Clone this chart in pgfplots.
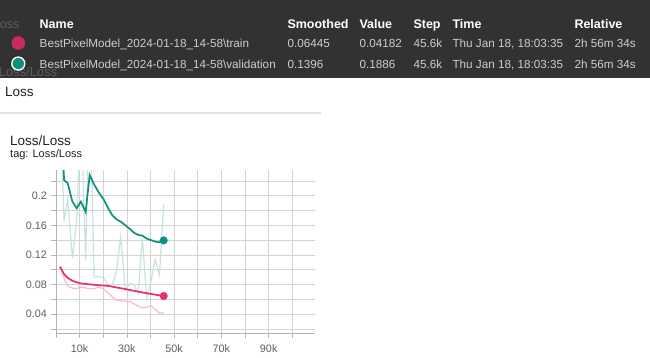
\documentclass[border=0pt]{standalone}
\usepackage{pgfplots}
\pgfplotsset{compat=1.18}
\usepackage{fontspec}
\setmainfont{Liberation Sans}
\definecolor{band}{HTML}{323232}
\definecolor{ghost}{HTML}{5E5E5E}
\definecolor{rowtxt}{HTML}{CDCDCD}
\definecolor{trainc}{HTML}{E6306F}
\definecolor{valc}{HTML}{0F8F7E}
\definecolor{gridc}{HTML}{D4D4D4}
\definecolor{tickc}{HTML}{5F5F5F}
\definecolor{dark}{HTML}{212121}
\newcommand{\fs}[1]{\fontsize{#1}{#1}\selectfont}

\pgfplotstableread{
x y
1.75 0.104
3.5 0.094
5.0 0.089
7.0 0.085
8.8 0.083
10.6 0.0815
12.6 0.0808
14.3 0.0802
16.2 0.0796
18.2 0.0790
20.2 0.0786
22.3 0.0780
24.0 0.0770
25.7 0.0760
27.4 0.0750
29.4 0.0738
31.3 0.0726
33.0 0.0715
34.8 0.0704
36.6 0.0693
38.4 0.0683
40.2 0.0673
42.0 0.0663
43.8 0.0654
45.6 0.06445
}\trainsmooth

\pgfplotstableread{
x y
1.75 0.104
3.5 0.088
5.0 0.078
7.0 0.075
8.8 0.0745
10.6 0.0765
12.6 0.0755
14.3 0.074
16.2 0.0745
18.2 0.0765
20.2 0.074
22.3 0.068
24.0 0.063
25.7 0.059
27.4 0.058
29.4 0.0575
31.3 0.057
33.0 0.054
34.8 0.051
36.6 0.0485
38.4 0.049
40.2 0.0515
42.0 0.0465
43.8 0.041
45.6 0.04182
}\trainraw

\pgfplotstableread{
x y
1.75 0.33
3.5 0.221
5.0 0.217
7.0 0.192
8.8 0.183
10.6 0.192
12.6 0.178
14.3 0.228
16.2 0.215
18.2 0.204
20.2 0.195
22.3 0.182
24.0 0.173
25.7 0.168
27.4 0.165
29.4 0.160
31.3 0.155
33.0 0.150
34.8 0.147
36.6 0.146
38.4 0.142
40.2 0.140
42.0 0.138
43.8 0.137
45.6 0.1396
}\valsmooth

\pgfplotstableread{
x y
1.75 0.33
3.5 0.165
5.0 0.196
7.0 0.115
8.8 0.165
10.6 0.32
12.6 0.113
14.3 0.36
16.2 0.0905
18.2 0.0905
20.2 0.089
22.3 0.079
24.0 0.080
25.7 0.100
27.4 0.1446
29.4 0.0726
31.3 0.0816
33.0 0.080
34.8 0.068
36.6 0.142
38.4 0.062
40.2 0.084
42.0 0.114
43.8 0.093
45.6 0.1886
}\valraw

\begin{document}
\begin{tikzpicture}[x=1pt,y=-1pt]
\useasboundingbox (0,0) rectangle (650,358);
\fill[white] (0,0) rectangle (650,358);
% dark tooltip band
\fill[band] (0,0) rectangle (650,78.3);
\node[anchor=base west,inner sep=0,text=ghost] at (-7.5,28.5) {\fs{12.7}Loss};
\node[anchor=base west,inner sep=0,text=ghost] at (-1.5,76.5) {\fs{13}Loss/Loss};
% header
\begin{scope}[every node/.style={anchor=base west,inner sep=0,text=white,font=\fs{12.5}\bfseries}]
\node at (39.5,28.5) {Name};
\node at (287.3,28.5) {Smoothed};
\node at (359.3,28.5) {Value};
\node at (413.3,28.5) {Step};
\node at (452.3,28.5) {Time};
\node at (574.3,28.5) {Relative};
\end{scope}
\fill[trainc!88!black] (18.3,43) circle (6.8);
\fill[valc] (18.3,63.6) circle (6.5);
\draw[white,line width=1.4pt] (18.3,63.6) circle (6.5);
\begin{scope}[every node/.style={anchor=base west,inner sep=0,text=rowtxt,font=\fs{11.7}}]
\node at (39.5,47.6) {BestPixelModel\_2024-01-18\_14-58\textbackslash train};
\node at (287.3,47.6) {0.06445};
\node at (359.3,47.6) {0.04182};
\node at (413.3,47.6) {45.6k};
\node at (452.3,47.6) {Thu Jan 18, 18:03:35};
\node at (574.3,47.6) {2h 56m 34s};
\node at (39.5,68.2) {BestPixelModel\_2024-01-18\_14-58\textbackslash validation};
\node at (287.3,68.2) {0.1396};
\node at (359.3,68.2) {0.1886};
\node at (413.3,68.2) {45.6k};
\node at (452.3,68.2) {Thu Jan 18, 18:03:35};
\node at (574.3,68.2) {2h 56m 34s};
\end{scope}
% section header
\node[anchor=base west,inner sep=0,text=dark] at (5,96.5) {\fs{13.5}Loss};
\draw[gridc!70!white,line width=1.3pt] (0,113) -- (321,113);
\node[anchor=base west,inner sep=0,text=dark] at (10,145.3) {\fs{13.5}Loss/Loss};
\node[anchor=base west,inner sep=0,text=dark] at (10,157.3) {\fs{11}tag: Loss/Loss};
% chart
\begin{axis}[
  at={(55.85pt,-333pt)}, anchor=south west,
  scale only axis, width=259.2pt, height=163pt,
  xmin=0, xmax=109.6, ymin=0.01446, ymax=0.2347,
  axis x line*=bottom, axis y line*=left,
  axis line style={gridc!85!black, line width=0.6pt},
  xtick={0,10,20,30,40,50,60,70,80,90,100},
  xticklabels={,10k,,30k,,50k,,70k,,90k,},
  ytick={0.02,0.04,0.06,0.08,0.1,0.12,0.14,0.16,0.18,0.2,0.22},
  yticklabels={,0.04,,0.08,,0.12,,0.16,,0.2,},
  tick align=outside, major tick length=4.5pt,
  tick style={gridc!85!black, line width=0.6pt},
  grid=major, major grid style={gridc, line width=0.6pt},
  ticklabel style={text=tickc, font=\fs{10.8}},
  xticklabel style={yshift=-3.5pt},
  yticklabel style={xshift=-1pt},
  clip marker paths=false,
]
\addplot[trainc!40!white, line width=1.2pt, opacity=0.8] table {\trainraw};
\addplot[valc!26!white, line width=1.2pt, opacity=0.9] table {\valraw};
\addplot[valc, line width=1.7pt] table {\valsmooth};
\addplot[trainc, line width=1.7pt] table {\trainsmooth};
\addplot[only marks, mark=*, mark size=3.8pt, color=valc] coordinates {(45.6,0.1396)};
\addplot[only marks, mark=*, mark size=3.8pt, color=trainc] coordinates {(45.6,0.06445)};
\end{axis}
\end{tikzpicture}
\end{document}
